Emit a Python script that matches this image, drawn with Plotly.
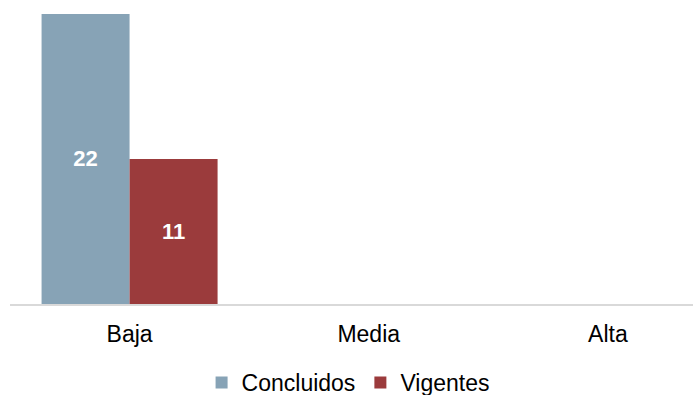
import plotly.graph_objects as go

categories = ["Baja", "Media", "Alta"]
concluidos = [22, 0, 0]
vigentes = [11, 0, 0]

font_family = "Arial, Liberation Sans, sans-serif"

def labels(vals):
    return [str(v) if v else "" for v in vals]

fig = go.Figure()
fig.add_trace(go.Bar(
    name="Concluidos", x=categories, y=concluidos,
    marker=dict(color="#87A3B6", line=dict(width=0)),
    text=labels(concluidos), textposition="inside", insidetextanchor="middle",
    textfont=dict(color="white", size=22, family=font_family, weight="bold"),
    textangle=0,
))
fig.add_trace(go.Bar(
    name="Vigentes", x=categories, y=vigentes,
    marker=dict(color="#9B3B3C", line=dict(width=0)),
    text=labels(vigentes), textposition="inside", insidetextanchor="middle",
    textfont=dict(color="white", size=22, family=font_family, weight="bold"),
    textangle=0,
))

fig.update_layout(
    width=693, height=395,
    margin=dict(l=10, r=0, t=0, b=91, autoexpand=False),
    paper_bgcolor="white", plot_bgcolor="white",
    barmode="group", bargap=0.264, bargroupgap=0,
    font=dict(family=font_family, size=23, color="black"),
    showlegend=True,
    legend=dict(orientation="h", x=0.495, y=-0.258, xanchor="center", yanchor="middle",
                font=dict(size=23, family=font_family), itemclick=False,
                bgcolor="rgba(0,0,0,0)"),
    xaxis=dict(range=[-0.5, 2.356], showline=True, linecolor="#D9D9D9", linewidth=2,
               showgrid=False, zeroline=False, ticks="", ticklabelstandoff=8,
               tickfont=dict(size=23), automargin=False),
    yaxis=dict(range=[0, 23.06], visible=False, showgrid=False, zeroline=False,
               automargin=False),
)

fig.write_html("out.html", config={"displayModeBar": False},
               post_script="document.body.style.margin='0';")
